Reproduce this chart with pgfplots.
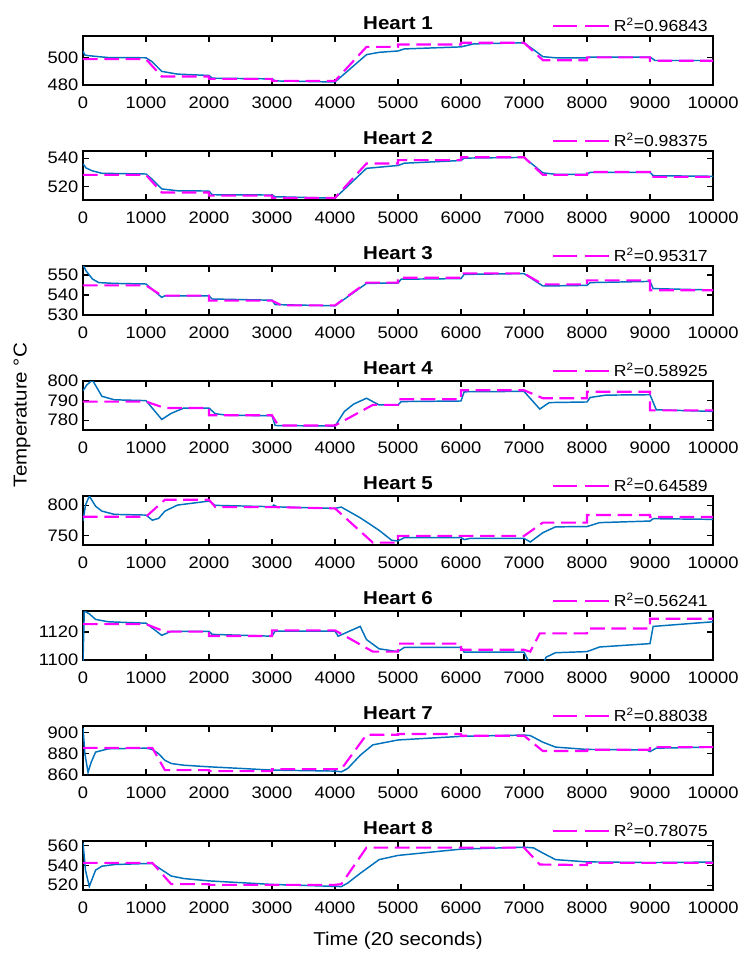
\documentclass[border=0pt]{standalone}
\usepackage{fontspec}
\setmainfont[FakeStretch=1.1]{Liberation Sans}
\usepackage{pgfplots}
\pgfplotsset{compat=1.18}
\definecolor{mblue}{HTML}{0072BD}
\definecolor{mmag}{HTML}{FF00FF}
\pgfplotsset{
  heart/.style={
    width=472.5pt, height=36.75pt, scale only axis, anchor=north west,
    xmin=0, xmax=10000, xtick={0,1000,...,10000},
    tick align=inside, major tick length=4.7pt,
    axis line style={line width=1pt}, every tick/.style={black, line width=0.8pt},
    /pgf/number format/1000 sep={}, /pgf/number format/assume math mode=true,
    scaled x ticks=false, scaled y ticks=false,
    tick label style={font=\fontsize{12.5}{12.5}\selectfont},
    xticklabel style={yshift=-5.5pt},
    every axis title shift=0pt,
    title style={font=\bfseries\fontsize{14}{14}\selectfont, at={(0.5,1)}, anchor=south, yshift=1pt},
    legend style={at={(1,1)}, anchor=south east, xshift=-2pt, draw=none, fill=none,
      font=\fontsize{12}{12}\selectfont, inner sep=0pt, outer sep=0pt},
    legend image code/.code={\draw[##1, dash pattern=on 18pt off 6pt] (0pt,0pt) -- (43pt,0pt);},
  },
  meas/.style={color=mblue, line width=1.1pt, no markers, forget plot},
  pred/.style={color=mmag, line width=1.6pt, dash pattern=on 11pt off 5pt, no markers},
}
\begin{document}
\begin{tikzpicture}
% Heart 1
\begin{axis}[heart, at={(0pt,0pt)}, title={Heart 1}, ymin=480, ymax=516, ytick={480,500}]
  \addplot[meas] coordinates {(0,505)(30,502)(100,501.5)(250,500.8)(400,500.2)(1000,500)(1100,497)(1250,490)(1500,488)(2000,487)(2050,485)(3000,484.5)(3050,483)(4000,482.2)(4500,502.3)(4700,504)(5000,505)(5100,506.5)(6000,508)(6200,510.2)(7000,511)(7150,506)(7300,500.8)(7500,500)(8000,500)(8050,500.5)(9000,500.5)(9080,498)(10000,498)};
  \addplot[pred] coordinates {(0,499)(1000,499)(1250,486.2)(2000,486.2)(2000,484.5)(3000,484.5)(3000,483)(4000,483)(4500,508)(5000,508)(5000,509.8)(6000,509.8)(6000,511)(7000,511)(7300,498.2)(8000,498.2)(8000,500.3)(9000,500.3)(9000,497.8)(10000,497.8)};
  \addlegendentry{R\textsuperscript{2}=0.96843}
\end{axis}
% Heart 2
\begin{axis}[heart, at={(0pt,-86.25pt)}, title={Heart 2}, ymin=510.5, ymax=545, ytick={520,540}]
  \addplot[meas] coordinates {(0,536)(50,533)(150,531)(300,529.3)(1000,528.8)(1100,525)(1250,518.3)(1500,517)(2000,516.8)(2050,514.2)(3000,514)(3050,512.8)(4000,511.8)(4500,532.8)(5000,534.8)(5100,536.4)(6000,538.3)(6050,540)(7000,540.5)(7300,529.6)(7500,528.6)(8000,528.6)(8050,530)(9000,530)(9050,527.6)(10000,527.2)};
  \addplot[pred] coordinates {(0,528.2)(1000,528.2)(1250,515.8)(2000,515.8)(2000,513.6)(3000,513.6)(3000,512)(4000,512)(4500,536.2)(5000,536.2)(5000,538.6)(6000,538.6)(6000,540.6)(7000,540.6)(7300,528.2)(8000,528.2)(8000,530.2)(9000,530.2)(9000,526.8)(10000,526.8)};
  \addlegendentry{R\textsuperscript{2}=0.98375}
\end{axis}
% Heart 3
\begin{axis}[heart, at={(0pt,-172.5pt)}, title={Heart 3}, ymin=530, ymax=554.5, ytick={530,540,550}]
  \addplot[meas] coordinates {(0,555)(50,552)(150,548)(250,546.2)(500,545.8)(1000,545.5)(1250,538.8)(1300,539.6)(2000,539.6)(2050,538)(3000,537.4)(3050,535.2)(4000,534.6)(4500,545.8)(5000,546)(5050,547.9)(6000,548.2)(6050,550.3)(7000,550.7)(7300,544.5)(8000,544.8)(8050,546.2)(9000,546.8)(9050,543.2)(10000,542.5)};
  \addplot[pred] coordinates {(0,544.8)(1000,544.8)(1250,539.7)(2000,539.7)(2000,537.2)(3000,537.2)(3150,534.8)(4000,534.8)(4500,546.2)(5000,546.2)(5000,548.6)(6000,548.6)(6000,550.8)(7000,550.8)(7300,545.3)(8000,545.3)(8000,547.3)(9000,547.3)(9000,542.4)(10000,542.4)};
  \addlegendentry{R\textsuperscript{2}=0.95317}
\end{axis}
% Heart 4
\begin{axis}[heart, at={(0pt,-258.75pt)}, title={Heart 4}, ymin=775, ymax=800, ytick={780,790,800}]
  \addplot[meas] coordinates {(0,795)(60,798)(150,800.5)(300,792.2)(500,790.4)(1000,790)(1250,780.4)(1400,783.5)(1600,786.2)(2000,786.2)(2100,783.3)(2300,782.5)(3000,782.3)(3050,777.3)(4000,777)(4150,784.5)(4300,788.3)(4500,791.2)(4700,787.8)(5000,787.8)(5050,789.5)(6000,789.8)(6050,794.5)(7000,794.7)(7250,785.7)(7400,789)(8000,789.3)(8050,791.6)(8300,792.8)(9000,793)(9100,785.3)(10000,784.5)};
  \addplot[pred] coordinates {(0,789.5)(1000,789.5)(1300,786.2)(2000,786.2)(2000,782.5)(3000,782.5)(3100,777.3)(4000,777.3)(4600,787.8)(5000,787.8)(5000,790.7)(6000,790.7)(6000,795.3)(7000,795.3)(7300,791.2)(8000,791.2)(8000,794.5)(9000,794.5)(9000,785)(10000,785)};
  \addlegendentry{R\textsuperscript{2}=0.58925}
\end{axis}
% Heart 5
\begin{axis}[heart, at={(0pt,-345pt)}, title={Heart 5}, ymin=734, ymax=815, ytick={750,800}]
  \addplot[meas] coordinates {(0,774)(40,800)(100,815)(200,798)(300,790)(500,784.6)(1000,783.5)(1100,775)(1200,778)(1300,790)(1500,800)(2000,806.6)(2100,799.5)(3000,797.3)(3030,800)(3080,797)(4000,794.5)(4100,796.7)(4400,779)(4700,758.3)(4900,741.8)(5000,740.7)(5100,746.2)(6000,746.2)(6050,742.9)(6150,745)(7000,745)(7100,739)(7300,754.4)(7500,764)(8000,764.5)(8200,771)(9000,773.6)(9050,777.5)(10000,776.4)};
  \addplot[pred] coordinates {(0,780.8)(1000,780.8)(1300,808.8)(2000,808.8)(2100,796.7)(3000,796.7)(4000,794.5)(4600,738)(5000,738)(5000,749)(7000,749)(7300,771)(8000,771)(8000,783.5)(9000,783.5)(9000,780.2)(10000,780.2)};
  \addlegendentry{R\textsuperscript{2}=0.64589}
\end{axis}
% Heart 6
\begin{axis}[heart, at={(0pt,-431.25pt)}, title={Heart 6}, ymin=1100, ymax=1135, ytick={1100,1120}]
  \addplot[meas] coordinates {(0,1098)(20,1135)(100,1133)(200,1129)(400,1127.3)(1000,1126.3)(1250,1117.6)(1400,1120.5)(2000,1120.5)(2050,1118.3)(3000,1117)(3050,1120.7)(4000,1120.7)(4050,1117)(4400,1124)(4500,1114.6)(4700,1108)(5000,1106)(5100,1109)(6000,1109)(6050,1105.6)(7000,1105.6)(7100,1097)(7300,1097)(7350,1102)(7500,1105.2)(8000,1106)(8200,1109.3)(8500,1110.2)(9000,1111.7)(9050,1124)(10000,1127.3)};
  \addplot[pred] coordinates {(0,1125.6)(1000,1125.6)(1300,1120.3)(2000,1120.3)(2000,1117.1)(3000,1117.1)(3000,1121.2)(4000,1121.2)(4600,1106)(5000,1106)(5000,1111.7)(6000,1111.7)(6000,1107.3)(7000,1107.3)(7100,1106)(7250,1119)(8000,1119)(8000,1122.5)(9000,1122.5)(9000,1129.5)(10000,1129.5)};
  \addlegendentry{R\textsuperscript{2}=0.56241}
\end{axis}
% Heart 7
\begin{axis}[heart, at={(0pt,-517.5pt)}, title={Heart 7}, ymin=860, ymax=906, ytick={860,880,900}]
  \addplot[meas] coordinates {(0,904)(30,880)(80,862.5)(130,872)(200,881.5)(400,884.6)(1000,885.2)(1100,884)(1200,880)(1300,873.8)(1400,870.8)(1600,869.2)(2000,867.7)(2500,866.2)(3000,864.6)(4000,863.7)(4100,863)(4200,866)(4400,878.5)(4600,888.3)(5000,892.9)(6000,896.3)(7000,897.5)(7100,897)(7300,890.8)(7500,886.2)(8000,884)(8950,883.5)(9000,882)(9100,885.2)(10000,886.2)};
  \addplot[pred] coordinates {(0,885.5)(1100,885.5)(1300,864.6)(2000,864.6)(2000,863.7)(3000,863.7)(3000,865.5)(4100,865.5)(4500,897.8)(5000,897.8)(5000,898.5)(6000,898.5)(6000,896.9)(7000,896.9)(7300,882.5)(8000,882.5)(8000,883.7)(9000,883.7)(9000,886.2)(10000,886.2)};
  \addlegendentry{R\textsuperscript{2}=0.88038}
\end{axis}
% Heart 8
\begin{axis}[heart, at={(0pt,-603.75pt)}, title={Heart 8}, ymin=515, ymax=565, ytick={520,540,560},
  xlabel={Time (20 seconds)},
  xlabel style={font=\fontsize{14}{14}\selectfont, at={(axis description cs:0.5,0)}, anchor=center, yshift=-38pt}]
  \addplot[meas] coordinates {(0,563.3)(40,535)(100,518.7)(150,527)(200,535.3)(300,539.3)(500,541)(1000,542)(1100,542)(1200,537.7)(1400,529.3)(1600,526.7)(2000,524.3)(3000,520.7)(4000,518.7)(4100,518.5)(4200,522)(4400,532)(4700,546)(5000,550.3)(6000,556.7)(7000,558.7)(7150,558)(7300,552.7)(7500,546)(8000,543.7)(9000,543)(10000,543.5)};
  \addplot[pred] coordinates {(0,542.7)(1100,542.7)(1400,521)(2000,521)(2000,520.3)(4000,520.3)(4100,521)(4500,558.3)(7000,558.3)(7250,541)(8000,540.5)(8000,542.7)(10000,542.7)};
  \addlegendentry{R\textsuperscript{2}=0.78075}
\end{axis}
\node[rotate=90, font=\fontsize{14}{14}\selectfont] at (-45.75pt,-284.25pt) {Temperature °C};
\pgfresetboundingbox
\path[use as bounding box] (-62.25pt,27pt) rectangle (502.5pt,-687.75pt);
\end{tikzpicture}
\end{document}
